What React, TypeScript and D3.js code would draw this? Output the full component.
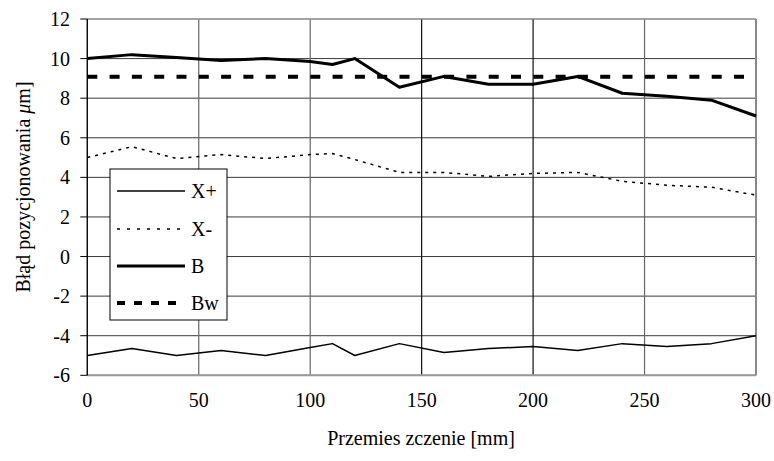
import React, { useEffect, useRef } from "react";
import * as d3 from "d3";

const positions = [0, 20, 40, 60, 80, 100, 110, 120, 140, 160, 180, 200, 220, 240, 260, 280, 300];
const xPlus = [-5.0, -4.65, -5.0, -4.75, -5.0, -4.6, -4.4, -5.0, -4.4, -4.85, -4.65, -4.55, -4.75, -4.4, -4.55, -4.4, -4.0];
const xMinus = [5.0, 5.55, 4.95, 5.15, 4.95, 5.15, 5.2, 4.9, 4.25, 4.25, 4.05, 4.2, 4.25, 3.8, 3.6, 3.5, 3.1];
const bValues = [10.0, 10.2, 10.05, 9.9, 10.0, 9.85, 9.7, 10.0, 8.55, 9.1, 8.7, 8.7, 9.1, 8.25, 8.1, 7.9, 7.1];
const bwValue = 9.08;
const xTicks = [0, 50, 100, 150, 200, 250, 300];
const yTicks = [-6, -4, -2, 0, 2, 4, 6, 8, 10, 12];
const seriesNames = ["X+", "X-", "B", "Bw"];

export default function App() {
  const ref = useRef<SVGSVGElement | null>(null);
  const W = 774, H = 461;

  useEffect(() => {
    const svg = d3.select(ref.current);
    svg.selectAll("*").remove();
    const x = d3.scaleLinear().domain([0, 300]).range([87.3, 756]);
    const y = d3.scaleLinear().domain([-6, 12]).range([375.3, 19]);
    const line = d3.line<number>().x((_, i) => x(positions[i])).y((v) => y(v));
    const F = "Liberation Serif";

    svg.append("rect").attr("width", W).attr("height", H).attr("fill", "#fff");

    const g = svg.append("g");
    yTicks.forEach((t) => {
      g.append("line").attr("x1", x(0)).attr("x2", x(300)).attr("y1", y(t)).attr("y2", y(t))
        .attr("stroke", "#3a3a3a").attr("stroke-width", 1);
    });
    xTicks.forEach((t) => {
      g.append("line").attr("x1", x(t)).attr("x2", x(t)).attr("y1", y(12)).attr("y2", y(-6))
        .attr("stroke", t === 150 || t === 200 ? "#111" : "#666").attr("stroke-width", 1.2);
    });
    g.append("line").attr("x1", x(0)).attr("x2", x(300)).attr("y1", y(12)).attr("y2", y(12)).attr("stroke", "#aaa").attr("stroke-width", 1.2);
    g.append("line").attr("x1", x(300)).attr("x2", x(300)).attr("y1", y(12)).attr("y2", y(-6)).attr("stroke", "#888").attr("stroke-width", 2);
    g.append("line").attr("x1", x(0)).attr("x2", x(300)).attr("y1", y(-6)).attr("y2", y(-6)).attr("stroke", "#999").attr("stroke-width", 2);
    g.append("line").attr("x1", x(0)).attr("x2", x(0)).attr("y1", y(12)).attr("y2", y(-6)).attr("stroke", "#000").attr("stroke-width", 1.2);
    yTicks.forEach((t) => {
      g.append("line").attr("x1", x(0) - 7).attr("x2", x(0)).attr("y1", y(t)).attr("y2", y(t)).attr("stroke", "#000");
    });

    const label = (sel: any) => sel.style("font-family", F).style("font-size", "20px").attr("fill", "#000");

    yTicks.forEach((t) => {
      label(g.append("text")).attr("x", 70).attr("y", y(t) + 7).attr("text-anchor", "end").text(String(t));
    });
    xTicks.forEach((t) => {
      label(g.append("text")).attr("x", x(t)).attr("y", 407).attr("text-anchor", "middle").text(String(t));
    });
    label(g.append("text")).attr("x", 421).attr("y", 445).attr("text-anchor", "middle").text("Przemies zczenie [mm]");
    const yl = label(g.append("text")).attr("transform", "translate(30,187) rotate(-90)").attr("text-anchor", "middle");
    yl.append("tspan").text("Błąd pozycjonowania ");
    yl.append("tspan").style("font-style", "italic").text("μ");
    yl.append("tspan").text("m]");

    g.append("path").attr("d", line(xPlus)).attr("fill", "none").attr("stroke", "#000").attr("stroke-width", 1.5).attr("stroke-linejoin", "round");
    g.append("path").attr("d", line(xMinus)).attr("fill", "none").attr("stroke", "#000").attr("stroke-width", 1.5).attr("stroke-dasharray", "3 5");
    g.append("path").attr("d", line(bValues)).attr("fill", "none").attr("stroke", "#000").attr("stroke-width", 3).attr("stroke-linejoin", "round");
    g.append("line").attr("x1", x(0)).attr("x2", x(300)).attr("y1", y(bwValue)).attr("y2", y(bwValue))
      .attr("stroke", "#000").attr("stroke-width", 4).attr("stroke-dasharray", "10 12.3");

    const legendY = [191, 229, 266, 303];
    const legW = [1.5, 1.5, 3, 4];
    const legDash = ["none", "3 7", "none", "8 9"];
    g.append("rect").attr("x", 110).attr("y", 169).attr("width", 117).attr("height", 151)
      .attr("fill", "#fff").attr("stroke", "#000");
    seriesNames.forEach((n, i) => {
      g.append("line").attr("x1", 117).attr("x2", 185).attr("y1", legendY[i]).attr("y2", legendY[i])
        .attr("stroke", "#000").attr("stroke-width", legW[i]).attr("stroke-dasharray", legDash[i]);
      label(g.append("text")).attr("x", 191).attr("y", legendY[i] + 7).text(n);
    });
  }, []);

  return (
    <div style={{ position: "absolute", left: 0, top: 0 }}>
      <svg ref={ref} width={W} height={H} />
    </div>
  );
}
